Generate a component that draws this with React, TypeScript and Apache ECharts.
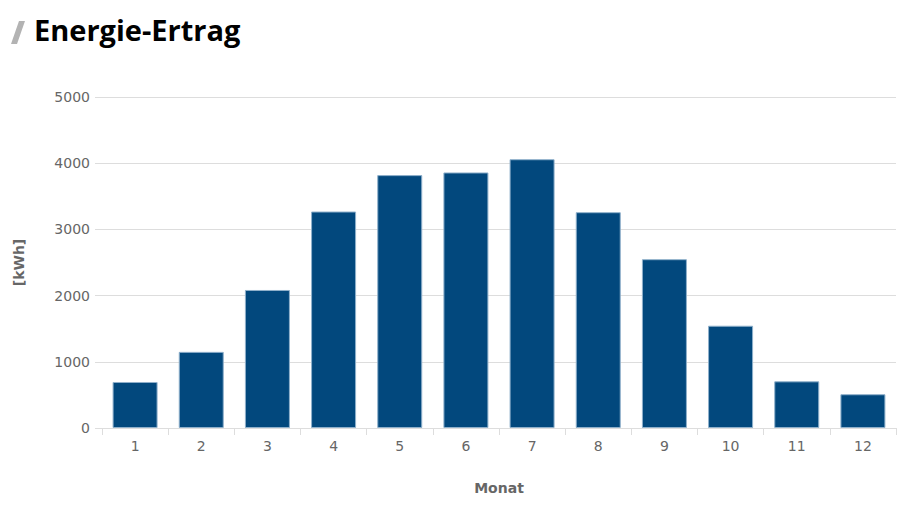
import React, { useEffect, useRef } from "react";
import * as echarts from "echarts";

const titleText = "Energie-Ertrag";
const months = ["1", "2", "3", "4", "5", "6", "7", "8", "9", "10", "11", "12"];
const energyKWh = [695, 1150, 2085, 3270, 3820, 3860, 4060, 3260, 2550, 1545, 705, 510];
const yAxisName = "[kWh]";
const xAxisName = "Monat";

export default function App() {
  const ref = useRef<HTMLDivElement>(null);
  useEffect(() => {
    if (!ref.current) return;
    const chart = echarts.init(ref.current, null, { renderer: "svg" });
    chart.setOption({
      animation: false,
      backgroundColor: "#ffffff",
      textStyle: { fontFamily: "DejaVu Sans" },
      graphic: [
        {
          type: "polygon",
          shape: { points: [[3, 36], [9, 36], [17, 13], [11, 13]] },
          style: { fill: "#b3b3b3" },
        },
        {
          type: "text",
          left: 26,
          top: 7,
          style: {
            text: titleText,
            font: "bold 29px 'Open Sans'",
            fill: "#000000",
          },
        },
      ],
      grid: { left: 94, right: 4, top: 89, bottom: 78, containLabel: false, outerBoundsMode: "none" },
      xAxis: {
        type: "category",
        data: months,
        name: xAxisName,
        nameLocation: "middle",
        nameGap: 53,
        nameTextStyle: { color: "#666666", fontWeight: "bold", fontSize: 14, fontFamily: "DejaVu Sans" },
        axisLine: { show: true, lineStyle: { color: "#dddddd", width: 1 } },
        axisTick: { show: true, alignWithLabel: false, length: 7, lineStyle: { color: "#dddddd" } },
        axisLabel: { color: "#666666", fontSize: 14, margin: 11, fontFamily: "DejaVu Sans" },
      },
      yAxis: {
        type: "value",
        min: 0,
        max: 5000,
        interval: 1000,
        name: yAxisName,
        nameLocation: "middle",
        nameGap: 76,
        nameRotate: 90,
        nameTextStyle: { color: "#666666", fontWeight: "bold", fontSize: 14, fontFamily: "DejaVu Sans" },
        axisLine: { show: false },
        axisTick: { show: true, length: 7, lineStyle: { color: "#dddddd" } },
        axisLabel: {
          color: "#666666",
          fontSize: 14,
          margin: 12,
          fontFamily: "DejaVu Sans",
          formatter: (v: number) => String(v),
        },
        splitLine: { show: true, lineStyle: { color: "#dddddd", width: 1 } },
      },
      series: [
        {
          type: "bar",
          data: energyKWh,
          barWidth: "68%",
          itemStyle: { color: "#02487d", borderColor: "#8fb0cb", borderWidth: 1 },
        },
      ],
    });
    return () => chart.dispose();
  }, []);
  return <div ref={ref} style={{ width: 892, height: 498 }} />;
}
